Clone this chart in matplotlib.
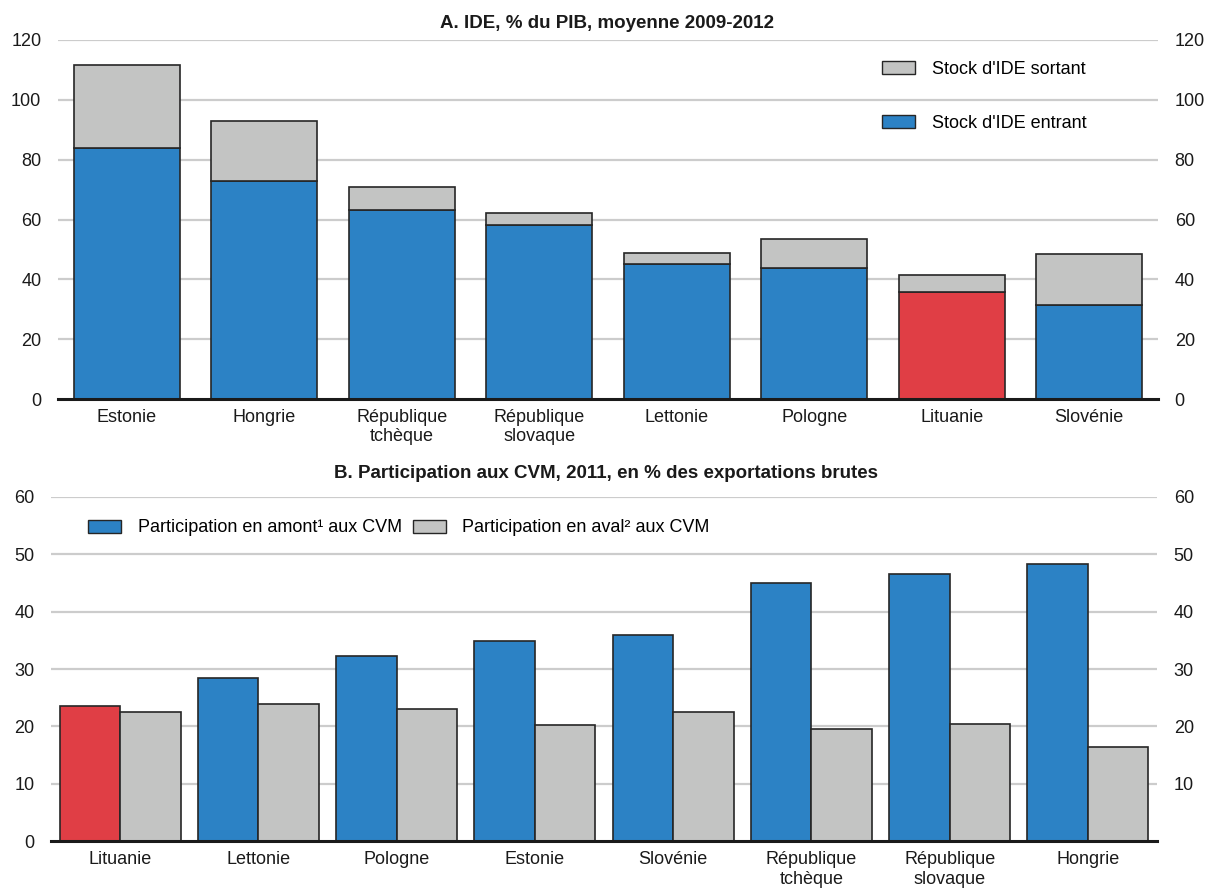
import matplotlib
matplotlib.use("Agg")
import matplotlib.pyplot as plt
from matplotlib.patches import Patch
import numpy as np

plt.rcParams['font.family'] = ['Liberation Sans Narrow', 'Liberation Sans', 'DejaVu Sans']

# Panel A: FDI stocks, % of GDP, 2009-2012 average
pays_a = ["Estonie", "Hongrie", "République\ntchèque", "République\nslovaque",
          "Lettonie", "Pologne", "Lituanie", "Slovénie"]
ide_entrant = [84.0, 73.0, 63.1, 58.0, 45.2, 43.7, 35.6, 31.3]
ide_total = [111.8, 93.0, 70.7, 62.1, 48.7, 53.4, 41.3, 48.5]
ide_sortant = [t - e for t, e in zip(ide_total, ide_entrant)]

# Panel B: GVC participation, 2011, % of gross exports
pays_b = ["Lituanie", "Lettonie", "Pologne", "Estonie", "Slovénie",
          "République\ntchèque", "République\nslovaque", "Hongrie"]
amont = [23.6, 28.5, 32.2, 34.9, 35.9, 45.0, 46.6, 48.3]
aval = [22.5, 23.9, 23.1, 20.2, 22.5, 19.5, 20.5, 16.4]

BLUE = "#2c82c5"
GREY = "#c3c4c3"
RED = "#e03e45"
EDGE = "#262626"
GRID = "#cccccc"
FS = 13

fig = plt.figure(figsize=(12.13, 8.92), dpi=100)

def style_axis(ax, yticks):
    for s in ("left", "right", "top"):
        ax.spines[s].set_visible(False)
    ax.spines["bottom"].set_color("#1a1a1a")
    ax.spines["bottom"].set_linewidth(2.2)
    ax.spines["bottom"].set_zorder(5)
    ax.set_yticks(yticks)
    ax.tick_params(axis="both", length=0, labelsize=FS, colors="#1a1a1a")
    ax.tick_params(axis="y", pad=12)
    ax.tick_params(axis="x", pad=7)
    for y in yticks:
        if y > 0:
            ax.axhline(y, color=GRID, lw=1.6, zorder=0)

# ---------- Panel A ----------
axA = fig.add_axes([58 / 1213, 1 - 399 / 892, 1100 / 1213, 359 / 892])
x = np.arange(len(pays_a))
w = 0.77
colors_in = [RED if p == "Lituanie" else BLUE for p in pays_a]
axA.bar(x, ide_entrant, w, color=colors_in, edgecolor=EDGE, lw=1.2, zorder=2)
axA.bar(x, ide_sortant, w, bottom=ide_entrant, color=GREY, edgecolor=EDGE, lw=1.2, zorder=2)
axA.set_xlim(-0.5, 7.5)
axA.set_ylim(0, 120)
style_axis(axA, np.arange(0, 121, 20))
axA.tick_params(axis="y", labelright=True)
axA.set_xticks(x)
axA.set_xticklabels(pays_a, linespacing=1.2)
handles_a = [Patch(facecolor=GREY, edgecolor=EDGE, lw=1.0, label="Stock d'IDE sortant"),
             Patch(facecolor=BLUE, edgecolor=EDGE, lw=1.0, label="Stock d'IDE entrant")]
axA.legend(handles=handles_a, loc="upper left", bbox_to_anchor=(882 / 1213, 1 - 61 / 892),
           bbox_transform=fig.transFigure, frameon=False, fontsize=FS,
           handlelength=1.85, handleheight=0.7, handletextpad=0.9,
           labelspacing=2.05, borderpad=0, borderaxespad=0)
fig.text(0.5, 1 - 23 / 892, "A. IDE, % du PIB, moyenne 2009-2012", ha="center", va="center",
         fontsize=FS + 0.5, fontweight="bold", color="#1a1a1a")

# ---------- Panel B ----------
axB = fig.add_axes([51 / 1213, 1 - 841.3 / 892, 1106 / 1213, 344.6 / 892])
bw = 0.4375
colors_am = [RED if p == "Lituanie" else BLUE for p in pays_b]
axB.bar(x - bw / 2, amont, bw, color=colors_am, edgecolor=EDGE, lw=1.2, zorder=2)
axB.bar(x + bw / 2, aval, bw, color=GREY, edgecolor=EDGE, lw=1.2, zorder=2)
axB.set_xlim(-0.5, 7.5)
axB.set_ylim(0, 60)
style_axis(axB, np.arange(0, 61, 10))
axB.set_xticks(x)
axB.set_xticklabels(pays_b, linespacing=1.2)
axB2 = axB.twinx()
axB2.set_ylim(0, 60)
axB2.set_yticks(np.arange(10, 61, 10))
for s in axB2.spines.values():
    s.set_visible(False)
axB2.tick_params(axis="y", length=0, labelsize=FS, colors="#1a1a1a", pad=12)
handles_b = [Patch(facecolor=BLUE, edgecolor=EDGE, lw=1.0, label="Participation en amont¹ aux CVM"),
             Patch(facecolor=GREY, edgecolor=EDGE, lw=1.0, label="Participation en aval² aux CVM")]
axB.legend(handles=handles_b, loc="center left", bbox_to_anchor=(88 / 1213, 1 - 528 / 892),
           bbox_transform=fig.transFigure, frameon=False, fontsize=FS, ncol=2,
           handlelength=1.85, handleheight=0.7, handletextpad=0.9,
           columnspacing=0.6, borderpad=0, borderaxespad=0)
fig.text(0.5, 1 - 473 / 892, "B. Participation aux CVM, 2011, en % des exportations brutes",
         ha="center", va="center", fontsize=FS + 0.5, fontweight="bold", color="#1a1a1a")

fig.savefig("out.png", dpi=100)
